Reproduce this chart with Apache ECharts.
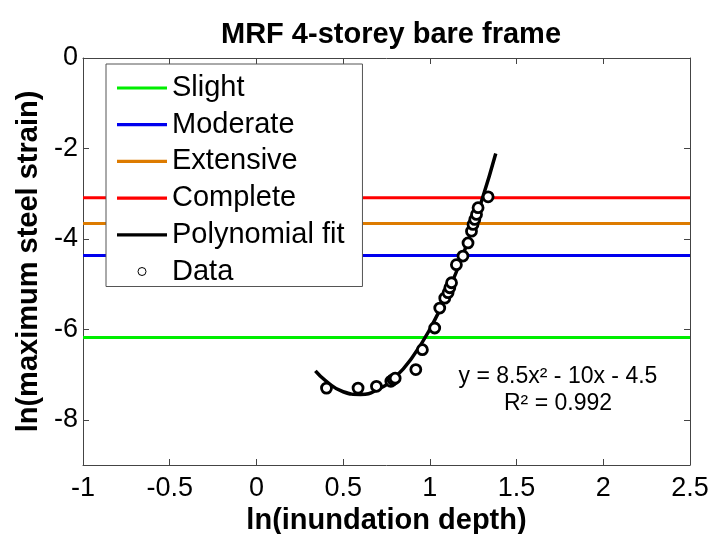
<!DOCTYPE html>
<html><head><meta charset="utf-8">
<script src="https://cdn.jsdelivr.net/npm/echarts@6/dist/echarts.min.js"></script>
<style>html,body{margin:0;padding:0;background:#fff}#c{width:711px;height:534px}</style>
</head><body><div id="c"></div>
<script>
const titleText = 'MRF 4-storey bare frame';
const xTicks = [-1, -0.5, 0, 0.5, 1, 1.5, 2, 2.5];
const yTicks = [0, -2, -4, -6, -8];
const thresholdNames = ['Slight', 'Moderate', 'Extensive', 'Complete'];
const thresholdValues = [-6.18, -4.37, -3.66, -3.09];
const thresholdColors = ['#00ee00', '#0000ee', '#dd7b00', '#ff0000'];
const fitX = [0.34, 0.40, 0.50, 0.60, 0.70, 0.80, 0.90, 1.00, 1.10, 1.20, 1.30, 1.38];
const fitY = [-6.92, -7.14, -7.38, -7.44, -7.33, -7.06, -6.61, -6.00, -5.21, -4.26, -3.14, -2.11];
const dataX = [0.404, 0.586, 0.692, 0.775, 0.788, 0.800, 0.919, 0.957, 1.028, 1.057, 1.086, 1.105, 1.115, 1.125, 1.153, 1.191, 1.220, 1.240, 1.249, 1.259, 1.269, 1.278, 1.336];
const dataY = [-7.30, -7.30, -7.26, -7.15, -7.11, -7.08, -6.89, -6.45, -5.97, -5.53, -5.31, -5.19, -5.08, -4.97, -4.57, -4.38, -4.09, -3.83, -3.68, -3.57, -3.46, -3.31, -3.07];
const eqText = 'y = 8.5x² - 10x - 4.5';
const r2Text = 'R² = 0.992';

const FONT = '"Liberation Sans", Arial, sans-serif';
const axisCol = '#444';
const chart = echarts.init(document.getElementById('c'));
const xMin = xTicks[0], xMax = xTicks[xTicks.length - 1];
const lineIcon = 'path://M0,0H50V3.2H0Z';

const series = thresholdNames.map((n, i) => ({
  name: n, type: 'line', symbol: 'none', silent: true,
  data: [[xMin, thresholdValues[i]], [xMax, thresholdValues[i]]],
  lineStyle: { color: thresholdColors[i], width: 3 }, itemStyle: { color: thresholdColors[i] }, z: 2
}));
series.push({
  name: 'Polynomial fit', type: 'line', symbol: 'none', smooth: true,
  data: fitX.map((x, i) => [x, fitY[i]]),
  lineStyle: { color: '#000', width: 3.5 }, itemStyle: { color: '#000' }, z: 4
});
series.push({
  name: 'Data', type: 'scatter', symbol: 'circle', symbolSize: 10,
  data: dataX.map((x, i) => [x, dataY[i]]),
  itemStyle: { color: '#fff', borderColor: '#000', borderWidth: 2.8, opacity: 1 }, z: 5
});

const axBase = {
  type: 'value', splitLine: { show: false },
  axisLine: { show: true, onZero: false, lineStyle: { color: axisCol, width: 1 } },
  axisTick: { show: true, inside: true, length: 6, lineStyle: { color: axisCol } }
};
const legendNames = thresholdNames.concat(['Polynomial fit']);

chart.setOption({
  animation: false,
  backgroundColor: '#fff',
  title: { text: titleText, left: 386, textAlign: 'center', top: 15,
    textStyle: { fontFamily: FONT, fontSize: 29, fontWeight: 'bold', color: '#000' } },
  grid: { left: 83, right: 21, top: 58, bottom: 69, containLabel: false, outerBoundsMode: 'none' },
  legend: {
    left: 106, top: 64, orient: 'vertical',
    data: legendNames.map(n => ({ name: n, icon: lineIcon })).concat([
      { name: 'Data', icon: 'circle', itemStyle: { color: '#fff', borderColor: '#000', borderWidth: 1 } }]),
    itemWidth: 50, itemHeight: 8, itemGap: 6.7,
    padding: [9, 18, 0, 11],
    backgroundColor: '#fff', borderColor: '#555', borderWidth: 1,
    textStyle: { fontFamily: FONT, fontSize: 29, color: '#000', lineHeight: 30 },
    selectedMode: false, z: 10
  },
  xAxis: [
    Object.assign({}, axBase, {
      min: xMin, max: xMax, interval: 0.5, position: 'bottom',
      name: 'ln(inundation depth)', nameLocation: 'middle', nameGap: 36,
      nameTextStyle: { fontFamily: FONT, fontSize: 29, fontWeight: 'bold', color: '#000' },
      axisLabel: { fontFamily: FONT, fontSize: 27, color: '#000', margin: 10 }
    }),
    Object.assign({}, axBase, { min: xMin, max: xMax, interval: 0.5, position: 'top', axisLabel: { show: false } })
  ],
  yAxis: [
    Object.assign({}, axBase, {
      min: -9, max: 0, position: 'left',
      name: 'ln(maximum steel strain)', nameLocation: 'middle', nameGap: 38,
      nameTextStyle: { fontFamily: FONT, fontSize: 29, fontWeight: 'bold', color: '#000' },
      axisLabel: { customValues: yTicks, fontFamily: FONT, fontSize: 27, color: '#000', margin: 5 },
      axisTick: { show: true, inside: true, length: 6, customValues: yTicks, lineStyle: { color: axisCol } }
    }),
    Object.assign({}, axBase, {
      min: -9, max: 0, position: 'right', axisLabel: { show: false },
      axisTick: { show: true, inside: true, length: 6, customValues: yTicks, lineStyle: { color: axisCol } }
    })
  ],
  graphic: [
    { type: 'text', style: { text: eqText, x: 558, y: 377, align: 'center', verticalAlign: 'middle', font: '23px ' + FONT, fill: '#000' }, z: 20 },
    { type: 'text', style: { text: r2Text, x: 558, y: 404, align: 'center', verticalAlign: 'middle', font: '23px ' + FONT, fill: '#000' }, z: 20 }
  ],
  series: series
});
</script></body></html>
